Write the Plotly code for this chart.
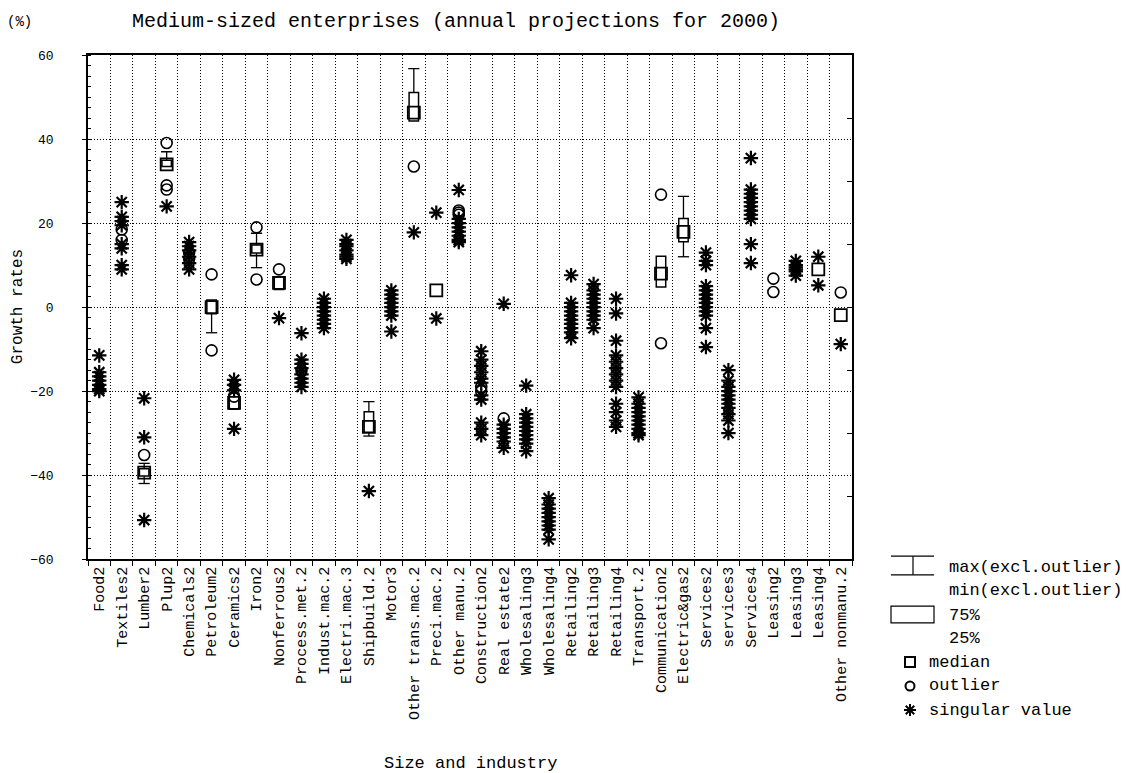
import plotly.graph_objects as go

# page body has an 8px margin, so the figure is shifted by OFF and shrunk to fit the window
OFF = 8
W, H = 1128 - OFF, 773 - OFF
FONT = "Liberation Mono"

categories = ["Food2", "Textiles2", "Lumber2", "Plup2", "Chemicals2", "Petroleum2",
              "Ceramics2", "Iron2", "Nonferrous2", "Process.met.2", "Indust.mac.2",
              "Electri.mac.3", "Shipbuild.2", "Motor3", "Other trans.mac.2",
              "Preci.mac.2", "Other manu.2", "Construction2", "Real estate2",
              "Wholesaling3", "Wholesaling4", "Retailing2", "Retailing3", "Retailing4",
              "Transport.2", "Communication2", "Electric&gas2", "Services2",
              "services3", "Services4", "Leasing2", "Leasing3", "Leasing4",
              "Other nonmanu.2"]

# boxes (25%-75%) and whiskers (min/max excl. outlier)
box_cats = ["Lumber2", "Plup2", "Petroleum2", "Ceramics2", "Iron2", "Nonferrous2",
            "Shipbuild.2", "Other trans.mac.2", "Communication2", "Electric&gas2"]
box_q1 = [-40.2, 33.5, -1.6, -24.3, 12.9, 4.2, -29.8, 44.3, 4.8, 15.6]
box_q3 = [-38.5, 35.0, 1.7, -20.5, 14.8, 7.2, -24.9, 51.1, 12.1, 21.1]
box_min = [-42.0, 33.5, -6.1, -24.3, 9.4, 4.2, -30.7, 44.3, 4.8, 12.0]
box_max = [-37.2, 37.0, 1.7, -20.5, 17.6, 7.2, -22.5, 56.8, 12.1, 26.4]

median_cats = box_cats + ["Preci.mac.2", "Leasing4", "Other nonmanu.2"]
median_vals = [-39.4, 34.0, 0.0, -22.8, 13.7, 5.8, -28.5, 46.3, 8.0, 17.9, 4.0, 9.0, -1.9]

outlier_values = {
    "Textiles2": [18.5, 16],
    "Lumber2": [-35.2],
    "Plup2": [39.1, 29, 28],
    "Chemicals2": [13, 11.5],
    "Petroleum2": [7.8, -10.3],
    "Ceramics2": [-21.3],
    "Iron2": [19, 6.6],
    "Nonferrous2": [9],
    "Process.met.2": [-15],
    "Other trans.mac.2": [33.5],
    "Other manu.2": [23, 22.5, 22],
    "Construction2": [-19, -20],
    "Real estate2": [-26.5],
    "Communication2": [26.8, -8.6],
    "Leasing2": [6.8, 3.6],
    "Other nonmanu.2": [3.5],
}

singular_values = {
    "Food2": [-11.5, -15.5, -16.5, -17.5, -18.5, -19.5, -20],
    "Textiles2": [25, 21.5, 20.5, 19.5, 15, 14, 10, 9],
    "Lumber2": [-21.7, -31, -50.7],
    "Plup2": [24],
    "Chemicals2": [15.5, 14.5, 13.5, 12, 10.5, 9],
    "Ceramics2": [-17.3, -18.5, -19.8, -29],
    "Nonferrous2": [-2.6],
    "Process.met.2": [-6.2, -12.5, -13.5, -14.5, -16, -17, -18, -19],
    "Indust.mac.2": [2, 1, 0, -1, -2, -3, -4, -5],
    "Electri.mac.3": [16, 15, 14.5, 13.5, 12.5, 12, 11.5],
    "Shipbuild.2": [-43.8],
    "Motor3": [4, 3, 2, 1, 0, -1, -2, -5.8],
    "Other trans.mac.2": [17.8],
    "Preci.mac.2": [22.5, -2.7],
    "Other manu.2": [27.9, 21, 20, 19, 18, 17, 16, 15.5],
    "Construction2": [-10.5, -12.5, -14, -15.5, -17, -18, -21, -22, -27.5, -29, -30.5],
    "Real estate2": [0.8, -28, -29, -30, -31, -32, -33.5],
    "Wholesaling3": [-18.7, -25.5, -26.5, -27.5, -28.5, -29.5, -30.5, -31.5, -32.5, -34.3],
    "Wholesaling4": [-45.5, -47, -48, -49, -50, -51, -52, -53, -55.3],
    "Retailing2": [7.6, 1, 0, -1, -2, -3, -4, -5, -6, -7.4],
    "Retailing3": [5.5, 4, 3, 2, 1, 0, -1, -2, -3, -5],
    "Retailing4": [2, -1.5, -8, -11.5, -13, -14.5, -16, -17.5, -19, -23, -25, -27, -28.5],
    "Transport.2": [-21.5, -23, -24, -25, -26, -27, -28, -29, -30, -30.5],
    "Services2": [13, 11, 10, 5, 4, 3, 2, 1, 0, -1, -2, -5, -9.5],
    "services3": [-15, -17.5, -19, -20, -21, -22, -23, -24, -25.5, -27, -30],
    "Services4": [35.5, 28, 27, 26, 25, 24, 23, 22, 21, 15, 10.5],
    "Leasing3": [11, 10, 9.5, 9, 8.5, 7.5],
    "Leasing4": [12, 5.2],
    "Other nonmanu.2": [-8.8],
}

fig = go.Figure()

# whiskers
wx, wy, cx, cy = [], [], [], []
for c, q1, q3, lo, hi in zip(box_cats, box_q1, box_q3, box_min, box_max):
    if hi > q3:
        wx += [c, c, None]; wy += [q3, hi, None]
        cx.append(c); cy.append(hi)
    if lo < q1:
        wx += [c, c, None]; wy += [q1, lo, None]
        cx.append(c); cy.append(lo)
fig.add_trace(go.Scatter(x=wx, y=wy, mode="lines", line=dict(color="black", width=1.3)))
fig.add_trace(go.Scatter(x=cx, y=cy, mode="markers",
                         marker=dict(symbol="line-ew-open", size=8, color="black",
                                     line=dict(color="black", width=1.3))))

# boxes
fig.add_trace(go.Bar(x=box_cats, y=[b - a for a, b in zip(box_q1, box_q3)], base=box_q1,
                     width=0.42, marker=dict(color="white", line=dict(color="black", width=1.5))))

# singular values
sx = [c for c, vals in singular_values.items() for _ in vals]
sy = [v for vals in singular_values.values() for v in vals]
fig.add_trace(go.Scatter(x=sx, y=sy, mode="markers",
                         marker=dict(symbol="asterisk-open", size=12, color="black",
                                     line=dict(color="black", width=2.2))))

# outliers
ox = [c for c, vals in outlier_values.items() for _ in vals]
oy = [v for vals in outlier_values.values() for v in vals]
fig.add_trace(go.Scatter(x=ox, y=oy, mode="markers",
                         marker=dict(symbol="circle-open", size=11, color="black",
                                     line=dict(color="black", width=1.6))))

# medians
fig.add_trace(go.Scatter(x=median_cats, y=median_vals, mode="markers",
                         marker=dict(symbol="square-open", size=12, color="black",
                                     line=dict(color="black", width=1.8))))

# right side ticks
fig.add_trace(go.Scatter(x=[categories[0]], y=[None], yaxis="y3", hoverinfo="skip"))

# legend keys (overlay axis in window pixels)
fig.add_trace(go.Scatter(x=[910], y=[669], xaxis="x2", yaxis="y2", mode="markers",
                         marker=dict(symbol="square-open", size=10, color="black",
                                     line=dict(color="black", width=2))))
fig.add_trace(go.Scatter(x=[910], y=[693.5], xaxis="x2", yaxis="y2", mode="markers",
                         marker=dict(symbol="circle-open", size=9, color="black",
                                     line=dict(color="black", width=2))))
fig.add_trace(go.Scatter(x=[910], y=[718], xaxis="x2", yaxis="y2", mode="markers",
                         marker=dict(symbol="asterisk-open", size=10, color="black",
                                     line=dict(color="black", width=2))))

shapes = [
    dict(type="line", x0=891, x1=934, y0=561, y1=561),
    dict(type="line", x0=891, x1=934, y0=580, y1=580),
    dict(type="line", x0=913, x1=913, y0=561, y1=580),
    dict(type="rect", x0=891, x1=934, y0=612, y1=629),
]
for s in shapes:
    s.update(xref="x2", yref="y2", line=dict(color="black", width=1.2))

def txt(x, y, t, size=17, anchor="left", angle=0):
    return dict(x=x, y=y, xref="x2", yref="y2", text=t, showarrow=False,
                xanchor=anchor, yanchor="middle", textangle=angle,
                font=dict(family=FONT, size=size, color="black"))

annotations = [
    txt(947, 573, "max(excl.outlier)"),
    txt(947, 596, "min(excl.outlier)"),
    txt(947, 622, "75%"),
    txt(947, 645, "25%"),
    txt(927, 669, "median"),
    txt(927, 693, "outlier"),
    txt(927, 718, "singular value"),
    txt(456, 16, "Medium-sized enterprises (annual projections for 2000)", 20, "center"),
    txt(19, 16, "(%)", 14, "center"),
    txt(18, 307, "Growth rates", 16, "center", -90),
    txt(470, 772, "Size and industry", 17, "center"),
]

DOT = "1px,2px"
PLOT_TOP, PLOT_BOTTOM = 50, 564
fig.update_layout(
    width=W, height=H, margin=dict(l=0, r=0, t=0, b=0),
    paper_bgcolor="white", plot_bgcolor="rgba(0,0,0,0)", showlegend=False,
    font=dict(family=FONT, color="black"),
    shapes=shapes, annotations=annotations,
    xaxis=dict(domain=[(88 - OFF) / W, (852 - OFF) / W], type="category",
               categoryorder="array", categoryarray=categories,
               range=[-0.5, len(categories) - 0.5],
               tickson="boundaries", showgrid=True, gridcolor="black", griddash=DOT,
               gridwidth=1, ticks="outside", ticklen=5, tickcolor="black",
               tickangle=-90, tickfont=dict(family=FONT, size=15),
               showline=True, linecolor="black", linewidth=1.5, mirror=True),
    yaxis=dict(domain=[1 - (PLOT_BOTTOM - OFF) / H, 1 - (PLOT_TOP - OFF) / H],
               range=[-60, 60], dtick=20,
               showgrid=True, gridcolor="black", griddash=DOT, gridwidth=1,
               zeroline=False, ticks="outside", ticklen=4, tickcolor="black",
               tickfont=dict(family=FONT, size=13), ticklabelstandoff=26,
               minor=dict(dtick=2.5, ticks="inside", ticklen=3, tickcolor="black"),
               showline=True, linecolor="black", linewidth=1.5, mirror=True),
    yaxis3=dict(overlaying="y", side="right", anchor="x", range=[-60, 60],
                tickvals=[-45, -30, -15, 0, 15, 30, 45], ticks="inside", ticklen=5,
                tickcolor="black", showticklabels=False, showgrid=False, zeroline=False),
    xaxis2=dict(domain=[0, 1], range=[OFF, OFF + W], visible=False, anchor="y2",
                fixedrange=True),
    yaxis2=dict(domain=[0, 1], range=[OFF + H, OFF], visible=False, anchor="x2",
                fixedrange=True),
)

fig.write_html("out.html")
